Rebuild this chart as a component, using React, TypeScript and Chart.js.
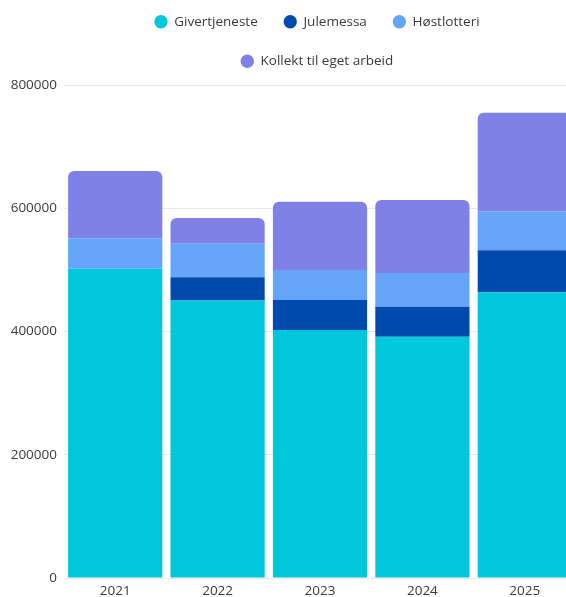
import React, { useEffect, useRef } from "react";
import { Chart, registerables } from "chart.js";

Chart.register(...registerables);

const years = ["2021", "2022", "2023", "2024", "2025"];
const givertjeneste = [502000, 450500, 402500, 391500, 463500];
const julemessa = [0, 37500, 48500, 48500, 68500];
const hostlotteri = [49500, 54500, 49000, 55000, 63000];
const kollekt = [109000, 41500, 110500, 118500, 160000];
const yTicks = [0, 200000, 400000, 600000, 800000];

const seriesNames = ["Givertjeneste", "Julemessa", "Høstlotteri", "Kollekt til eget arbeid"];
const seriesColors = ["#00c8dc", "#0049ad", "#64a5f9", "#7f81e7"];

const FONT = "'Open Sans', sans-serif";

const legendSpacing = {
  id: "legendSpacing",
  beforeInit(chart: any) {
    const legend = chart.legend;
    if (!legend || legend.__patched) return;
    const origFit = legend.fit;
    legend.fit = function () {
      const mw = this.maxWidth;
      this.maxWidth = Math.min(mw, 520);
      origFit.call(this);
      this.maxWidth = mw;
      this.height += 7;
    };
    legend.__patched = true;
  },
};

export default function App() {
  const canvasRef = useRef<HTMLCanvasElement | null>(null);

  useEffect(() => {
    if (!canvasRef.current) return;
    const values = [givertjeneste, julemessa, hostlotteri, kollekt];
    const chart = new Chart(canvasRef.current, {
      type: "bar",
      data: {
        labels: years,
        datasets: values.map((d, i) => ({
          label: seriesNames[i],
          data: d,
          backgroundColor: seriesColors[i],
          borderWidth: 0,
          borderRadius:
            i === values.length - 1
              ? { topLeft: 6, topRight: 6, bottomLeft: 0, bottomRight: 0 }
              : 0,
          barPercentage: 0.92,
          categoryPercentage: 1,
          yAxisID: "y",
        })),
      },
      options: {
        animation: false,
        responsive: true,
        maintainAspectRatio: false,
        layout: { padding: 0 },
        plugins: {
          legend: {
            position: "top",
            labels: {
              usePointStyle: true,
              pointStyle: "circle",
              boxWidth: 13,
              boxHeight: 9.4,
              padding: 26,
              color: "#3a3a3a",
              font: { family: FONT, size: 13.5 },
            },
          },
          tooltip: { enabled: false },
        },
        scales: {
          x: {
            stacked: true,
            grid: { display: false, drawTicks: false },
            border: { display: false },
            ticks: {
              color: "#3a3a3a",
              padding: 5,
              font: { family: FONT, size: 13.5 },
            },
            afterFit: (s: any) => {
              s.height = 21;
            },
          },
          y: {
            stacked: true,
            position: "left",
            min: 0,
            max: 800000,
            afterBuildTicks: (s: any) => {
              s.ticks = yTicks.map((v) => ({ value: v }));
            },
            grid: { color: "#e8e8e8", drawTicks: false },
            border: { display: false },
            ticks: {
              color: "#3a3a3a",
              padding: 7,
              font: { family: FONT, size: 13.5 },
              callback: (v: any) => String(v),
            },
            afterFit: (s: any) => {
              s.width = 64;
            },
          },
          yPad: {
            type: "linear",
            position: "right",
            display: true,
            grid: { display: false, drawTicks: false },
            border: { display: false },
            ticks: { display: false },
            afterFit: (s: any) => {
              s.width = 58;
            },
          },
        },
      },
      plugins: [legendSpacing],
    });
    return () => chart.destroy();
  }, []);

  return (
    <div
      style={{
        position: "fixed",
        left: 0,
        top: 0,
        width: 566,
        height: 597,
        overflow: "hidden",
        background: "#ffffff",
      }}
    >
      <div style={{ position: "absolute", left: 0, top: -11, width: 634, height: 610 }}>
        <canvas ref={canvasRef} />
      </div>
    </div>
  );
}
